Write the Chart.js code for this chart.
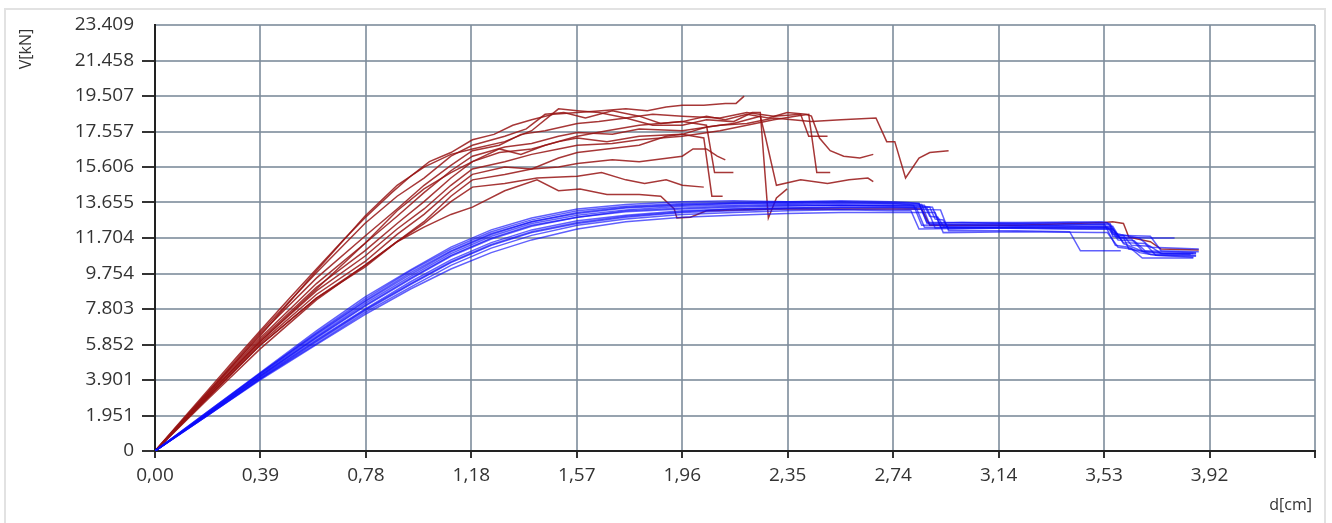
<!DOCTYPE html>
<html>
<head>
<meta charset="utf-8">
<script src="https://cdn.jsdelivr.net/npm/chart.js@4.4.0/dist/chart.umd.min.js"></script>
<style>
  html, body { margin: 0; padding: 0; background: #fff; }
  #wrap { width: 1332px; height: 523px; position: relative; }
</style>
</head>
<body>
<div id="wrap"><canvas id="vdChart"></canvas></div>
<script>
// axis ticks
var xStep = 0.392;
var xMax = 4.312;
var xTickLabels = ["0,00", "0,39", "0,78", "1,18", "1,57", "1,96", "2,35", "2,74", "3,14", "3,53", "3,92", ""];
var yMax = 23.409;
var yTickLabels = ["0", "1.951", "3.901", "5.852", "7.803", "9.754", "11.704", "13.655", "15.606", "17.557", "19.507", "21.458", "23.409"];

// red curves, [d, V]
var redCurves = [
  [[0,0],[0.1,1.7],[0.2,3.4],[0.3,5.1],[0.39,6.6],[0.5,8.4],[0.6,10.0],[0.7,11.6],[0.78,12.8],[0.88,14.2],[0.95,15.1],[1.02,15.9],[1.1,16.4],[1.18,17.1],[1.26,17.4],[1.33,17.9],[1.4,18.2],[1.48,18.5],[1.57,18.6],[1.66,18.7],[1.75,18.8],[1.83,18.7],[1.9,18.9],[1.96,19.0],[2.04,19.0],[2.12,19.1],[2.16,19.1],[2.19,19.5]],
  [[0,0],[0.2,3.3],[0.39,6.5],[0.6,9.8],[0.78,12.5],[0.9,14.0],[1.0,15.0],[1.1,16.2],[1.18,16.8],[1.3,17.3],[1.38,17.7],[1.45,18.5],[1.52,18.6],[1.6,18.3],[1.7,18.7],[1.8,18.4],[1.88,18.0],[1.96,18.1],[2.05,18.4],[2.12,18.2],[2.2,18.5],[2.28,18.3],[2.35,18.6],[2.42,18.5],[2.44,18.4],[2.47,17.2],[2.51,16.5],[2.56,16.2],[2.62,16.1],[2.67,16.3]],
  [[0,0],[0.2,3.2],[0.39,6.4],[0.6,9.5],[0.78,11.8],[0.9,13.3],[1.0,14.6],[1.1,15.7],[1.18,16.5],[1.28,16.8],[1.36,17.4],[1.45,17.6],[1.57,18.0],[1.65,18.1],[1.75,18.3],[1.85,17.9],[1.96,17.9],[2.05,18.2],[2.15,18.1],[2.22,18.6],[2.25,18.6],[2.28,12.8],[2.31,13.9],[2.35,14.4]],
  [[0,0],[0.2,3.2],[0.39,6.2],[0.6,9.2],[0.78,11.4],[0.9,12.9],[1.0,14.2],[1.1,15.4],[1.18,16.2],[1.3,16.7],[1.4,16.9],[1.5,17.3],[1.57,17.5],[1.7,17.4],[1.8,17.7],[1.96,17.6],[2.1,17.9],[2.2,18.0],[2.3,18.3],[2.44,18.1],[2.55,18.2],[2.68,18.3],[2.72,17.0],[2.75,17.0],[2.79,15.0],[2.84,16.1],[2.88,16.4],[2.95,16.5]],
  [[0,0],[0.2,3.1],[0.39,6.1],[0.6,9.0],[0.78,11.0],[0.9,12.5],[1.0,13.7],[1.1,15.0],[1.18,15.9],[1.28,16.4],[1.4,16.6],[1.5,17.0],[1.57,17.2],[1.68,17.0],[1.8,17.3],[1.96,17.4],[2.05,17.8],[2.15,18.0],[2.25,18.4],[2.27,17.2],[2.31,14.6],[2.4,14.9],[2.5,14.7],[2.58,14.9],[2.65,15.0],[2.67,14.8]],
  [[0,0],[0.2,3.1],[0.39,6.0],[0.6,8.8],[0.78,10.7],[0.9,12.2],[1.0,13.3],[1.1,14.6],[1.18,15.5],[1.3,15.9],[1.4,16.3],[1.5,16.6],[1.57,16.8],[1.7,16.9],[1.8,17.1],[1.96,17.3],[2.1,17.6],[2.2,17.9],[2.3,18.2],[2.38,18.4],[2.43,18.5],[2.46,15.3],[2.51,15.3]],
  [[0,0],[0.2,3.0],[0.39,5.9],[0.6,8.6],[0.78,10.4],[0.9,11.9],[1.0,13.0],[1.1,14.3],[1.18,15.2],[1.3,15.6],[1.4,15.5],[1.5,16.1],[1.57,16.4],[1.68,16.6],[1.8,16.8],[1.9,17.3],[1.96,17.4],[2.04,17.2],[2.07,14.0],[2.11,14.0]],
  [[0,0],[0.2,3.0],[0.39,5.8],[0.6,8.4],[0.78,10.2],[0.9,11.5],[1.0,12.6],[1.1,14.0],[1.18,14.9],[1.3,15.2],[1.4,15.5],[1.5,15.6],[1.57,15.8],[1.7,16.0],[1.8,15.9],[1.96,16.2],[2.0,16.6],[2.05,16.6],[2.09,16.2],[2.12,16.0]],
  [[0,0],[0.2,3.0],[0.39,5.8],[0.6,8.4],[0.78,10.1],[0.9,11.5],[1.0,12.5],[1.1,13.7],[1.18,14.5],[1.3,14.7],[1.42,15.0],[1.57,15.1],[1.66,15.3],[1.75,14.9],[1.82,14.7],[1.9,14.9],[1.96,14.6],[2.04,14.5]],
  [[0,0],[0.2,2.9],[0.39,5.6],[0.6,8.3],[0.78,10.2],[0.9,11.5],[1.0,12.3],[1.1,13.0],[1.18,13.4],[1.3,14.3],[1.42,14.9],[1.5,14.3],[1.58,14.4],[1.68,14.1],[1.8,14.1],[1.88,14.0],[1.93,13.3],[1.94,12.8],[1.99,12.85],[2.05,13.2],[2.3,13.3],[2.6,13.3],[2.85,13.3],[2.88,12.4],[3.2,12.4],[3.53,12.55],[3.56,12.6],[3.6,12.5],[3.62,11.75],[3.7,11.5],[3.74,11.1],[3.88,11.05]],
  [[0,0],[0.2,3.3],[0.39,6.3],[0.6,9.9],[0.78,12.9],[0.9,14.6],[1.0,15.6],[1.1,16.3],[1.18,16.6],[1.3,17.0],[1.4,17.6],[1.5,18.8],[1.57,18.7],[1.65,18.6],[1.75,18.3],[1.85,18.5],[1.96,18.4],[2.1,18.3],[2.2,18.6],[2.3,18.4],[2.4,18.5],[2.43,17.3],[2.5,17.3]],
  [[0,0],[0.2,3.1],[0.39,6.0],[0.6,8.9],[0.78,11.4],[0.9,13.2],[1.0,14.4],[1.1,15.3],[1.18,15.9],[1.28,16.6],[1.36,16.3],[1.45,16.8],[1.57,17.3],[1.68,17.6],[1.8,17.9],[1.96,18.1],[2.05,17.9],[2.08,15.3],[2.15,15.3]]
];

// blue curves: rising part on a shared d grid, then their own tails
var blueD = [0, 0.2, 0.39, 0.6, 0.78, 0.95, 1.1, 1.25, 1.4, 1.57, 1.75, 1.96, 2.15, 2.35, 2.55, 2.74];
var blueRise = [
  [0,2.2,4.3,6.6,8.45,9.95,11.2,12.15,12.8,13.3,13.55,13.7,13.75,13.7,13.75,13.7],
  [0,2.15,4.25,6.45,8.25,9.8,11.0,11.95,12.6,13.1,13.4,13.55,13.6,13.65,13.6,13.6],
  [0,2.1,4.15,6.3,8.1,9.6,10.85,11.8,12.5,12.95,13.25,13.45,13.5,13.55,13.5,13.5],
  [0,2.1,4.1,6.2,7.95,9.45,10.7,11.65,12.35,12.85,13.15,13.3,13.4,13.45,13.5,13.45],
  [0,2.05,4.05,6.1,7.8,9.3,10.5,11.45,12.15,12.65,12.95,13.2,13.3,13.35,13.4,13.4],
  [0,2.0,3.95,6.0,7.7,9.15,10.35,11.3,12.0,12.5,12.85,13.1,13.2,13.3,13.3,13.3],
  [0,2.0,3.95,5.9,7.6,9.0,10.2,11.15,11.85,12.4,12.75,13.0,13.1,13.2,13.25,13.2],
  [0,2.15,4.2,6.4,8.2,9.7,10.95,11.9,12.6,13.05,13.35,13.5,13.6,13.6,13.65,13.6],
  [0,2.1,4.1,6.25,8.0,9.5,10.75,11.7,12.4,12.85,13.2,13.35,13.45,13.5,13.5,13.5],
  [0,2.0,3.9,5.85,7.5,8.9,10.0,10.9,11.6,12.2,12.6,12.85,12.95,13.05,13.1,13.1],
  [0,2.2,4.25,6.5,8.35,9.9,11.1,12.05,12.7,13.2,13.45,13.6,13.65,13.7,13.7,13.65],
  [0,2.05,4.0,6.05,7.75,9.2,10.4,11.35,12.05,12.55,12.9,13.15,13.3,13.35,13.4,13.4]
];
var blueTail = [
  [[2.8,13.65],[2.84,13.6],[2.87,12.5],[3.0,12.55],[3.2,12.5],[3.4,12.55],[3.55,12.5],[3.58,11.75],[3.7,11.7],[3.79,11.7]],
  [[2.8,13.55],[2.82,13.5],[2.85,12.4],[3.1,12.45],[3.3,12.4],[3.53,12.45],[3.57,11.3],[3.62,11.2],[3.66,10.9],[3.72,10.75],[3.87,10.7]],
  [[2.85,13.45],[2.89,13.4],[2.92,12.3],[3.1,12.3],[3.35,12.35],[3.55,12.3],[3.58,11.7],[3.63,11.65],[3.67,11.0],[3.75,10.85],[3.86,10.85]],
  [[2.88,13.4],[2.9,12.75],[2.93,12.7],[2.95,12.2],[3.2,12.25],[3.5,12.2],[3.55,12.2],[3.58,11.6],[3.64,11.55],[3.68,11.0],[3.87,10.9]],
  [[2.83,13.35],[2.86,12.3],[3.15,12.3],[3.45,12.3],[3.54,12.3],[3.56,11.9],[3.6,11.85],[3.63,11.3],[3.7,11.25],[3.74,10.85],[3.85,10.8]],
  [[2.92,13.25],[2.95,12.1],[3.2,12.1],[3.4,12.05],[3.44,11.0],[3.59,11.0]],
  [[2.81,13.2],[2.84,12.2],[3.1,12.25],[3.4,12.2],[3.56,12.2],[3.6,11.45],[3.68,11.4],[3.72,10.75],[3.86,10.65]],
  [[2.85,13.55],[2.88,12.45],[3.2,12.5],[3.5,12.45],[3.55,12.45],[3.56,12.0],[3.59,11.9],[3.66,11.7],[3.7,11.2],[3.78,11.15],[3.88,11.1]],
  [[2.86,13.5],[2.88,12.9],[2.91,12.85],[2.93,12.35],[3.2,12.4],[3.5,12.35],[3.56,12.35],[3.6,11.4],[3.7,10.8],[3.87,10.75]],
  [[2.9,13.1],[2.93,12.0],[3.2,12.05],[3.5,12.0],[3.54,12.0],[3.58,11.2],[3.63,11.1],[3.67,10.6],[3.86,10.6]],
  [[2.84,13.6],[2.87,12.55],[3.2,12.55],[3.52,12.6],[3.54,12.55],[3.58,11.85],[3.7,11.8],[3.74,11.0],[3.88,10.95]],
  [[2.87,13.35],[2.9,12.25],[3.2,12.3],[3.45,12.25],[3.55,12.25],[3.56,11.8],[3.6,11.75],[3.62,11.1],[3.7,10.9],[3.87,10.85]]
];

function toPoints(pairs) {
  return pairs.map(function (p) { return { x: p[0], y: p[1] }; });
}

var datasets = [];
redCurves.forEach(function (c) {
  datasets.push({ data: toPoints(c), borderColor: 'rgba(150,20,20,0.85)', borderWidth: 1.5, order: 2 });
});
blueRise.forEach(function (r, i) {
  var pts = blueD.map(function (d, k) { return [d, r[k]]; }).concat(blueTail[i]);
  datasets.push({ data: toPoints(pts), borderColor: 'rgba(10,10,250,0.65)', borderWidth: 1.5, order: 1 });
});

var framePlugin = {
  id: 'frame',
  beforeDraw: function (chart) {
    var c = chart.ctx;
    c.save();
    c.strokeStyle = '#e2e2e2';
    c.lineWidth = 2;
    c.strokeRect(5, 9, 1320, 530);
    c.restore();
  },
  afterDraw: function (chart) {
    var c = chart.ctx;
    c.save();
    c.fillStyle = '#333';
    c.font = '16px "Open Sans"';
    c.textAlign = 'right';
    c.textBaseline = 'middle';
    c.fillText('d[cm]', 1312, 505);
    c.translate(26, 49);
    c.rotate(-Math.PI / 2);
    c.textAlign = 'center';
    c.fillText('V[kN]', 0, 0);
    c.restore();
  }
};

new Chart(document.getElementById('vdChart'), {
  type: 'line',
  data: { datasets: datasets },
  plugins: [framePlugin],
  options: {
    responsive: true,
    maintainAspectRatio: false,
    animation: false,
    layout: { padding: { left: 0, top: 25, right: 17, bottom: 0 } },
    elements: { point: { radius: 0 }, line: { tension: 0 } },
    plugins: { legend: { display: false }, tooltip: { enabled: false } },
    scales: {
      x: {
        type: 'linear',
        min: 0,
        max: xMax,
        afterFit: function (s) { s.height = 72; },
        afterBuildTicks: function (s) {
          s.ticks = xTickLabels.map(function (l, i) { return { value: i * xStep }; });
        },
        ticks: {
          autoSkip: false,
          maxRotation: 0,
          padding: 6,
          color: '#333',
          font: { family: 'Open Sans', size: 19 },
          callback: function (v, i) { return xTickLabels[i]; }
        },
        grid: { color: 'rgba(125,140,155,0.8)', lineWidth: 2, tickLength: 7, tickColor: '#333', tickWidth: 2 },
        border: { display: true, color: '#222', width: 2 }
      },
      y: {
        min: 0,
        max: yMax,
        afterFit: function (s) { s.width = 155; },
        afterBuildTicks: function (s) {
          s.ticks = yTickLabels.map(function (l, i) { return { value: i * yMax / 12 }; });
        },
        ticks: {
          autoSkip: false,
          padding: 8,
          color: '#333',
          font: { family: 'Open Sans', size: 19 },
          callback: function (v, i) { return yTickLabels[i]; }
        },
        grid: {
          color: 'rgba(125,140,155,0.8)', lineWidth: 2, tickLength: 13, tickWidth: 2,
          tickColor: function (ctx) { return ctx.index === yTickLabels.length - 1 ? 'rgba(0,0,0,0)' : '#333'; }
        },
        border: { display: true, color: '#222', width: 2 }
      }
    }
  }
});
</script>
</body>
</html>
